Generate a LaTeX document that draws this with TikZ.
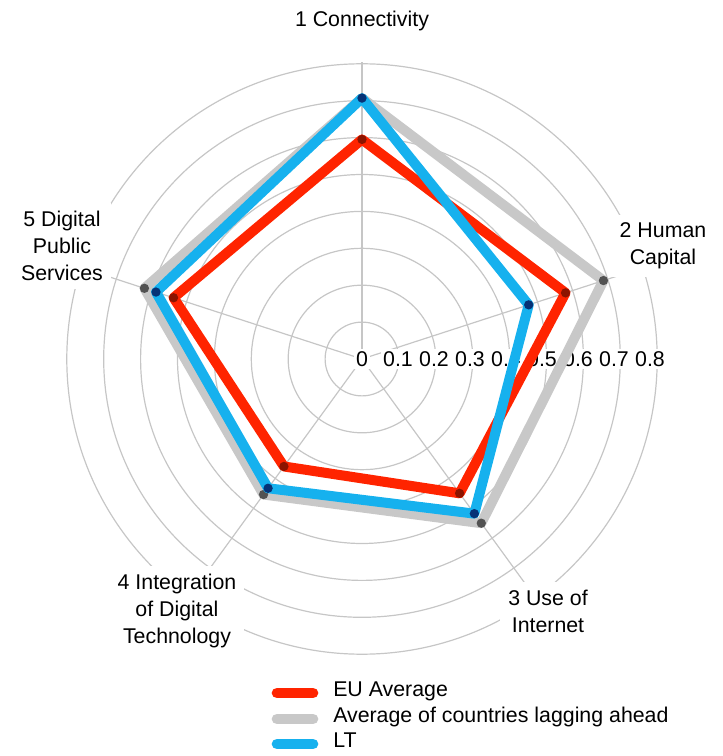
\documentclass[tikz,border=0pt]{standalone}
\usepackage{fontspec}
\setmainfont{Liberation Sans}
\usepackage{tikz}
\usepackage{xcolor}
\usetikzlibrary{positioning}

\definecolor{eured}{HTML}{FF2400}
\definecolor{laggray}{HTML}{C8C8C8}
\definecolor{ltblue}{HTML}{16B1EE}
\definecolor{gridgray}{HTML}{C6C6C6}

\begin{document}
\begin{tikzpicture}[x=0.75pt,y=0.75pt,font=\fontsize{16}{20.25}\selectfont,
    ring/.style={draw=gridgray,line width=0.9pt},
    axislabel/.style={fill=white,align=center,inner sep=6pt},
    ticklabel/.style={fill=white,inner sep=1.5pt},
    series/.style={line width=7.5pt,line join=round},
    dot/.style={circle,fill=#1,inner sep=0pt,minimum size=7pt},
    keyline/.style={line width=8pt,line cap=round},
    keytext/.style={inner sep=0pt,text height=0.75em,text depth=0.22em}]
   \useasboundingbox (-362,-397) rectangle (360,359);
   \coordinate (c) at (0,0);
   % grid
   \foreach \r in {1,...,8}
      \draw[ring] (c) circle (36.9*\r);
   \foreach \a in {90,18,-54,-126,162}
      \draw[ring] (c) -- (\a:297);
   % axes
   \node[axislabel] (conn)  at (0,338)      {1 Connectivity};
   \node[axislabel] (human) at (301,113)    {2 Human\\Capital};
   \node[axislabel] (inet)  at (186,-252)   {3 Use of\\Internet};
   \node[axislabel] (integ) at (-185,-252)  {4 Integration\\of Digital\\Technology};
   \node[axislabel] (pub)   at (-300,113)   {5 Digital\\Public\\Services};
   \foreach \v [count=\i from 0] in {0,0.1,0.2,0.3,0.4,0.5,0.6,0.7,0.8}
      \node[ticklabel] (tick\i) at (36*\i,0) {\v};
   % data
   \begin{scope}[scale=369]
      \coordinate (eu1) at (90:0.595);   \coordinate (eu2) at (18:0.58);
      \coordinate (eu3) at (-54:0.45);   \coordinate (eu4) at (-126:0.36);
      \coordinate (eu5) at (162:0.537);
      \coordinate (lag1) at (90:0.707);  \coordinate (lag2) at (18:0.688);
      \coordinate (lag3) at (-54:0.55);  \coordinate (lag4) at (-126:0.454);
      \coordinate (lag5) at (162:0.62);
      \coordinate (lt1) at (90:0.707);   \coordinate (lt2) at (18:0.475);
      \coordinate (lt3) at (-54:0.518);  \coordinate (lt4) at (-126:0.433);
      \coordinate (lt5) at (162:0.587);
   \end{scope}
   \draw[series,eured] (eu1) -- (eu2) -- (eu3) -- (eu4) -- (eu5) -- cycle;
   \foreach \k in {1,...,5} \node[dot=eured!55!black] (eudot\k) at (eu\k) {};
   \draw[series,laggray] (lag1) -- (lag2) -- (lag3) -- (lag4) -- (lag5) -- cycle;
   \foreach \k in {1,...,5} \node[dot=black!68] (lagdot\k) at (lag\k) {};
   \draw[series,ltblue] (lt1) -- (lt2) -- (lt3) -- (lt4) -- (lt5) -- cycle;
   \foreach \k in {1,...,5} \node[dot=ltblue!35!black!80!blue] (ltdot\k) at (lt\k) {};
   % legend
   \coordinate (k1a) at (-85,-334); \coordinate (k1b) at (-49,-334);
   \coordinate (k2a) at (-85,-360); \coordinate (k2b) at (-49,-360);
   \coordinate (k3a) at (-85,-385); \coordinate (k3b) at (-49,-385);
   \draw[keyline,eured]   (k1a) -- (k1b);
   \draw[keyline,laggray] (k2a) -- (k2b);
   \draw[keyline,ltblue]  (k3a) -- (k3b);
   \node[keytext,right=15pt of k1b] (k1t) {EU Average};
   \node[keytext,right=15pt of k2b] (k2t) {Average of countries lagging ahead};
   \node[keytext,right=15pt of k3b] (k3t) {LT};
\end{tikzpicture}
\end{document}
